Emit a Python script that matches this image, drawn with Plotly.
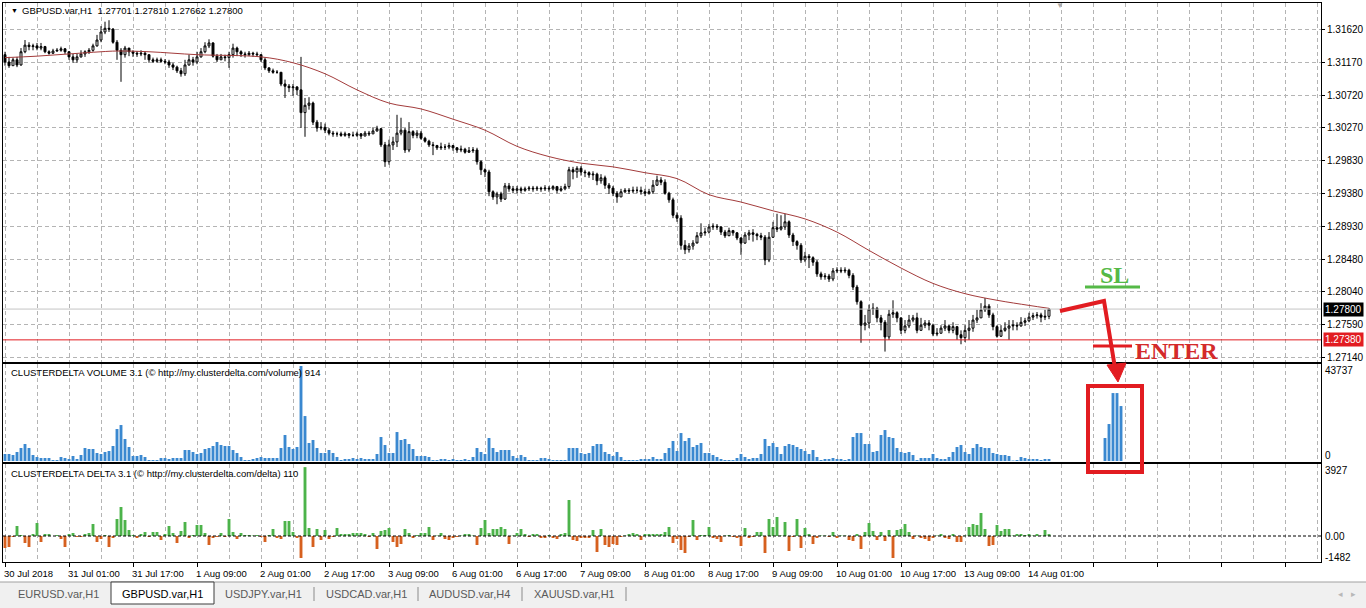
"""
GBPUSD H1 chart in MT4 style with ClusterDelta volume and delta panels.
"""

import plotly.graph_objects as go

W, H = 1366, 608

# ---------------------------------------------------------------- data
first_open = 1.3127

closes = [
    1.3117, 1.3112, 1.3120, 1.3113, 1.3131, 1.3140, 1.3138, 1.3139, 1.3136, 1.3138, 1.3131, 1.3129, 1.3132, 1.3133, 1.3135, 1.3131,
    1.3124, 1.3120, 1.3124, 1.3128, 1.3131, 1.3133, 1.3139, 1.3147, 1.3158, 1.3163, 1.3162, 1.3144, 1.3133, 1.3127, 1.3136, 1.3131,
    1.3129, 1.3128, 1.3129, 1.3127, 1.3120, 1.3118, 1.3120, 1.3118, 1.3117, 1.3113, 1.3110, 1.3105, 1.3101, 1.3113, 1.3120, 1.3117,
    1.3124, 1.3131, 1.3139, 1.3143, 1.3125, 1.3120, 1.3124, 1.3123, 1.3127, 1.3136, 1.3131, 1.3128, 1.3127, 1.3129, 1.3128, 1.3127,
    1.3120, 1.3109, 1.3105, 1.3103, 1.3103, 1.3087, 1.3084, 1.3082, 1.3083, 1.3079, 1.3048, 1.3058, 1.3061, 1.3035, 1.3027, 1.3028,
    1.3024, 1.3020, 1.3019, 1.3019, 1.3017, 1.3019, 1.3017, 1.3017, 1.3019, 1.3016, 1.3020, 1.3019, 1.3023, 1.3026, 1.3004, 1.2981,
    1.3004, 1.3008, 1.3020, 1.3024, 1.2997, 1.3022, 1.3017, 1.3020, 1.3013, 1.3009, 1.3004, 1.3003, 1.3000, 1.3001, 1.3001, 1.3003,
    1.3000, 1.2997, 1.2998, 1.2994, 1.2996, 1.2997, 1.2981, 1.2970, 1.2967, 1.2940, 1.2933, 1.2937, 1.2930, 1.2948, 1.2944, 1.2942,
    1.2944, 1.2942, 1.2944, 1.2945, 1.2944, 1.2945, 1.2944, 1.2945, 1.2944, 1.2947, 1.2942, 1.2944, 1.2947, 1.2970, 1.2967, 1.2972,
    1.2967, 1.2966, 1.2963, 1.2964, 1.2955, 1.2959, 1.2949, 1.2945, 1.2938, 1.2933, 1.2940, 1.2942, 1.2941, 1.2942, 1.2942, 1.2940,
    1.2938, 1.2940, 1.2949, 1.2956, 1.2953, 1.2938, 1.2929, 1.2908, 1.2904, 1.2867, 1.2861, 1.2866, 1.2870, 1.2880, 1.2884, 1.2885,
    1.2892, 1.2893, 1.2892, 1.2885, 1.2880, 1.2887, 1.2884, 1.2877, 1.2870, 1.2881, 1.2884, 1.2882, 1.2880, 1.2878, 1.2847, 1.2878,
    1.2891, 1.2889, 1.2892, 1.2899, 1.2881, 1.2872, 1.2867, 1.2847, 1.2852, 1.2850, 1.2844, 1.2828, 1.2824, 1.2825, 1.2821, 1.2832,
    1.2833, 1.2832, 1.2833, 1.2826, 1.2810, 1.2790, 1.2758, 1.2761, 1.2780, 1.2781, 1.2768, 1.2762, 1.2742, 1.2773, 1.2775, 1.2768,
    1.2751, 1.2757, 1.2765, 1.2768, 1.2751, 1.2758, 1.2761, 1.2758, 1.2746, 1.2747, 1.2754, 1.2757, 1.2751, 1.2756, 1.2745, 1.2741,
    1.2751, 1.2754, 1.2765, 1.2768, 1.2779, 1.2784, 1.2772, 1.2756, 1.2743, 1.2751, 1.2754, 1.2757, 1.2758, 1.2757, 1.2762, 1.2764,
    1.2769, 1.2771, 1.2772, 1.2769, 1.27701, 1.27800,
]

highs = [
    1.3131, 1.3124, 1.3123, 1.3124, 1.3136, 1.3147, 1.3144, 1.3142, 1.3143, 1.3143, 1.3139, 1.3133, 1.3135, 1.3136, 1.3138, 1.3136,
    1.3132, 1.3128, 1.3129, 1.3133, 1.3133, 1.3136, 1.3142, 1.3154, 1.3166, 1.3172, 1.3174, 1.3163, 1.3147, 1.3136, 1.3139, 1.3133,
    1.3133, 1.3132, 1.3133, 1.3132, 1.3127, 1.3123, 1.3123, 1.3123, 1.3121, 1.3120, 1.3116, 1.3112, 1.3109, 1.3120, 1.3127, 1.3124,
    1.3131, 1.3136, 1.3144, 1.3148, 1.3144, 1.3128, 1.3128, 1.3127, 1.3131, 1.3142, 1.3138, 1.3133, 1.3131, 1.3132, 1.3131, 1.3131,
    1.3127, 1.3123, 1.3110, 1.3108, 1.3106, 1.3103, 1.3093, 1.3087, 1.3087, 1.3084, 1.3124, 1.3068, 1.3069, 1.3063, 1.3038, 1.3035,
    1.3033, 1.3027, 1.3023, 1.3022, 1.3022, 1.3022, 1.3020, 1.3022, 1.3022, 1.3020, 1.3023, 1.3023, 1.3028, 1.3030, 1.3027, 1.3008,
    1.3011, 1.3015, 1.3045, 1.3041, 1.3027, 1.3035, 1.3024, 1.3024, 1.3023, 1.3015, 1.3011, 1.3008, 1.3004, 1.3007, 1.3005, 1.3007,
    1.3004, 1.3001, 1.3003, 1.3000, 1.3001, 1.3001, 1.3000, 1.2983, 1.2972, 1.2970, 1.2942, 1.2940, 1.2940, 1.2952, 1.2952, 1.2948,
    1.2948, 1.2947, 1.2947, 1.2948, 1.2948, 1.2948, 1.2947, 1.2949, 1.2948, 1.2949, 1.2948, 1.2948, 1.2951, 1.2974, 1.2974, 1.2975,
    1.2975, 1.2970, 1.2968, 1.2968, 1.2966, 1.2964, 1.2962, 1.2952, 1.2948, 1.2941, 1.2944, 1.2945, 1.2945, 1.2947, 1.2947, 1.2947,
    1.2944, 1.2944, 1.2956, 1.2962, 1.2960, 1.2957, 1.2940, 1.2932, 1.2912, 1.2908, 1.2874, 1.2870, 1.2874, 1.2885, 1.2897, 1.2891,
    1.2896, 1.2897, 1.2896, 1.2893, 1.2888, 1.2891, 1.2888, 1.2885, 1.2878, 1.2885, 1.2888, 1.2889, 1.2884, 1.2884, 1.2881, 1.2885,
    1.2899, 1.2910, 1.2908, 1.2910, 1.2901, 1.2884, 1.2874, 1.2870, 1.2858, 1.2855, 1.2852, 1.2847, 1.2831, 1.2829, 1.2828, 1.2836,
    1.2837, 1.2837, 1.2837, 1.2835, 1.2829, 1.2813, 1.2792, 1.2772, 1.2786, 1.2788, 1.2783, 1.2772, 1.2765, 1.2779, 1.2792, 1.2777,
    1.2768, 1.2765, 1.2772, 1.2772, 1.2775, 1.2768, 1.2765, 1.2765, 1.2760, 1.2754, 1.2758, 1.2765, 1.2758, 1.2762, 1.2757, 1.2751,
    1.2758, 1.2765, 1.2772, 1.2779, 1.2788, 1.2795, 1.2787, 1.2775, 1.2758, 1.2758, 1.2762, 1.2765, 1.2765, 1.2762, 1.2769, 1.2768,
    1.2775, 1.2775, 1.2776, 1.2775, 1.2779, 1.27810,
]

lows = [
    1.3112, 1.3109, 1.3112, 1.3110, 1.3112, 1.3129, 1.3133, 1.3133, 1.3133, 1.3133, 1.3129, 1.3127, 1.3128, 1.3131, 1.3131, 1.3128,
    1.3120, 1.3116, 1.3116, 1.3123, 1.3124, 1.3128, 1.3131, 1.3138, 1.3144, 1.3155, 1.3158, 1.3142, 1.3120, 1.3090, 1.3123, 1.3125,
    1.3124, 1.3124, 1.3125, 1.3120, 1.3116, 1.3116, 1.3116, 1.3116, 1.3114, 1.3109, 1.3106, 1.3102, 1.3097, 1.3098, 1.3112, 1.3112,
    1.3114, 1.3123, 1.3129, 1.3136, 1.3123, 1.3117, 1.3120, 1.3118, 1.3109, 1.3123, 1.3125, 1.3124, 1.3123, 1.3125, 1.3124, 1.3124,
    1.3117, 1.3106, 1.3102, 1.3101, 1.3101, 1.3084, 1.3068, 1.3076, 1.3071, 1.3072, 1.3027, 1.3015, 1.3052, 1.3031, 1.3022, 1.3024,
    1.3020, 1.3017, 1.3015, 1.3015, 1.3015, 1.3015, 1.3013, 1.3015, 1.3015, 1.3012, 1.3016, 1.3016, 1.3019, 1.3022, 1.3001, 1.2974,
    1.2977, 1.2997, 1.3001, 1.3017, 1.2993, 1.2994, 1.3013, 1.3013, 1.3011, 1.3007, 1.3001, 1.2990, 1.2997, 1.2997, 1.2997, 1.2998,
    1.2996, 1.2993, 1.2994, 1.2992, 1.2993, 1.2993, 1.2977, 1.2963, 1.2960, 1.2934, 1.2929, 1.2923, 1.2926, 1.2929, 1.2940, 1.2938,
    1.2938, 1.2938, 1.2940, 1.2941, 1.2940, 1.2941, 1.2940, 1.2941, 1.2940, 1.2942, 1.2938, 1.2940, 1.2942, 1.2944, 1.2957, 1.2959,
    1.2962, 1.2960, 1.2959, 1.2956, 1.2949, 1.2951, 1.2944, 1.2937, 1.2934, 1.2925, 1.2933, 1.2938, 1.2937, 1.2938, 1.2938, 1.2936,
    1.2934, 1.2936, 1.2937, 1.2948, 1.2949, 1.2936, 1.2925, 1.2904, 1.2899, 1.2861, 1.2855, 1.2857, 1.2861, 1.2872, 1.2877, 1.2880,
    1.2883, 1.2888, 1.2888, 1.2881, 1.2877, 1.2881, 1.2880, 1.2874, 1.2854, 1.2869, 1.2874, 1.2872, 1.2874, 1.2874, 1.2840, 1.2844,
    1.2877, 1.2885, 1.2887, 1.2888, 1.2877, 1.2866, 1.2861, 1.2843, 1.2844, 1.2836, 1.2839, 1.2824, 1.2820, 1.2820, 1.2817, 1.2818,
    1.2829, 1.2829, 1.2829, 1.2822, 1.2806, 1.2786, 1.2734, 1.2751, 1.2754, 1.2772, 1.2762, 1.2751, 1.2722, 1.2738, 1.2768, 1.2762,
    1.2746, 1.2747, 1.2754, 1.2762, 1.2747, 1.2751, 1.2754, 1.2751, 1.2743, 1.2743, 1.2747, 1.2750, 1.2747, 1.2747, 1.2738, 1.2732,
    1.2735, 1.2738, 1.2749, 1.2761, 1.2768, 1.2776, 1.2768, 1.2751, 1.2741, 1.2742, 1.2749, 1.2738, 1.2751, 1.2751, 1.2756, 1.2757,
    1.2762, 1.2765, 1.2767, 1.2762, 1.2765, 1.27662,
]

# moving average at a handful of bars
ma_bars = [0, 8, 16, 24, 28, 36, 48, 64, 72, 80, 88, 96, 104, 112, 120, 128, 136,
           144, 152, 160, 168, 176, 184, 192, 200, 208, 216, 224, 232, 240, 248, 256, 261]
ma_values = [1.3123, 1.3125, 1.3128, 1.3131, 1.3132, 1.3131, 1.3127, 1.3124, 1.3116, 1.3101, 1.3079,
             1.3061, 1.3053, 1.3039, 1.3024, 1.3002, 1.2988, 1.2979, 1.2974, 1.2966, 1.2958, 1.2936,
             1.2926, 1.2914, 1.2903, 1.2885, 1.2860, 1.2836, 1.2815, 1.2801, 1.2792, 1.2785, 1.2781]

volumes = [
    3220, 3220, 2760, 4140, 5980, 7820, 5980, 2760, 1840, 1380, 1380, 1380, 460, 460, 1840, 1380,
    920, 2300, 920, 2760, 5980, 5520, 5520, 3680, 3220, 4140, 4600, 6900, 14720, 16560, 10120, 6440,
    2300, 2300, 2760, 1840, 460, 460, 460, 1380, 1380, 920, 1380, 1380, 1380, 5060, 5060, 4140,
    3220, 3680, 5520, 5980, 6900, 8740, 7360, 6900, 6900, 5060, 3680, 1840, 460, 460, 920, 1380,
    1840, 1380, 1380, 1380, 1380, 5980, 11960, 6440, 5520, 6440, 43737, 20700, 8280, 9660, 5980, 3680,
    3680, 5060, 3680, 1840, 460, 920, 920, 1380, 920, 1380, 920, 920, 920, 3220, 11040, 7360,
    3680, 3680, 13340, 9660, 10120, 7820, 5520, 2300, 2300, 2300, 1840, 460, 460, 920, 920, 460,
    920, 460, 460, 920, 460, 1840, 5980, 4140, 3220, 10580, 5980, 4140, 5060, 5060, 5060, 2300,
    1380, 2760, 1840, 460, 460, 460, 1380, 1380, 920, 460, 460, 460, 460, 5980, 5980, 5980,
    3680, 3220, 3680, 6900, 7820, 7820, 4140, 3220, 2300, 4140, 1840, 460, 460, 460, 460, 920,
    920, 920, 1840, 920, 920, 3680, 5980, 9200, 4600, 12880, 9200, 10580, 6440, 7360, 8280, 3680,
    3680, 2760, 1840, 920, 460, 460, 460, 1380, 3220, 1840, 920, 1380, 1380, 3220, 10120, 6900,
    8280, 6440, 3220, 6900, 7820, 7360, 6440, 5520, 4600, 3220, 5060, 1840, 460, 920, 920, 1380,
    920, 920, 460, 920, 11040, 12880, 12880, 7820, 7820, 4140, 4600, 11960, 14260, 11040, 10580, 5980,
    4140, 3680, 4140, 2760, 460, 1380, 1380, 1380, 3220, 1380, 920, 920, 1840, 4140, 6440, 7360,
    4140, 3220, 5980, 7820, 6440, 5980, 5980, 3680, 3220, 2760, 2760, 2300, 230, 460, 1840, 1380,
    920, 920, 920, 460, 920, 914,
]

# the indicator also paints a few bars ahead of the last candle
future_bars = [275, 276, 277, 278, 279]
future_volumes = [10580, 17020, 31280, 31280, 25300]

deltas = [
    -684, -627, -57, 570, 57, -399, -627, 114, 741, -342, 114, 114, 0, 57, -171, -627,
    114, 171, -57, -57, 114, 171, 684, -342, -171, 57, -627, -114, 969, 1653, 912, 342,
    57, -114, 114, 228, -57, 228, 228, -228, 114, 570, 171, -399, 285, 798, -114, 57,
    627, 627, 171, -513, -114, -57, 171, -57, 969, 228, -171, 171, 57, 57, 28, 57,
    -57, -342, 57, 399, -114, -171, 855, 855, 228, -114, -1254, 3927, 456, -627, 399, -228,
    342, -171, -57, 456, 114, 114, 114, 171, 171, 171, 114, -57, 171, -741, 285, 342,
    456, -342, -627, -456, 399, 171, -114, 57, 171, 171, 513, -228, 28, 171, -171, -228,
    -114, -57, 28, 114, 114, 28, -513, 456, 912, 171, 399, 399, 513, 399, -456, 28,
    171, 399, 114, -57, 114, 114, -114, -114, 57, -114, -171, 114, 171, 2052, -228, -285,
    -114, -114, -114, 342, -912, 399, -513, -627, -456, -513, -57, 28, 114, 171, 114, -228,
    114, 114, 114, 114, 114, 228, 513, -399, -171, -798, -969, -57, 912, -228, 57, 57,
    513, -114, -171, -342, 28, 57, -57, -114, -570, 456, -114, -57, 228, 228, -969, 969,
    513, 1083, 28, 798, -855, -57, 969, -684, 456, 114, -456, -114, 28, 28, -57, 228,
    -114, 28, 28, -228, -285, 114, -741, 228, 741, 285, -228, 228, -285, 342, -1254, 342,
    399, 684, 228, -171, 28, -114, -171, -285, -114, 28, 114, -114, -171, 114, -342, -342,
    28, 513, 684, 627, 1311, 399, -570, -513, 627, 285, 399, 399, 28, 114, 114, 57,
    114, 28, 114, 28, 342, 110,
]

price_levels = [1.31620, 1.31170, 1.30720, 1.30270, 1.29830, 1.29380,
                1.28930, 1.28480, 1.28040, 1.27590, 1.27140]

label_bars = [0, 16, 32, 48, 64, 80, 96, 112, 128, 144, 160, 176, 192, 208, 224, 240, 256]
label_texts = ["30 Jul 2018", "31 Jul 01:00", "31 Jul 17:00", "1 Aug 09:00", "2 Aug 01:00",
               "2 Aug 17:00", "3 Aug 09:00", "6 Aug 01:00", "6 Aug 17:00", "7 Aug 09:00",
               "8 Aug 01:00", "8 Aug 17:00", "9 Aug 09:00", "10 Aug 01:00", "10 Aug 17:00",
               "13 Aug 09:00", "14 Aug 01:00"]

last_price = 1.27800
entry_price = 1.27380
header = "GBPUSD.var,H1  1.27701 1.27810 1.27662 1.27800"
volume_title = "CLUSTERDELTA VOLUME 3.1 (© http://my.clusterdelta.com/volume) 914"
delta_title = "CLUSTERDELTA DELTA 3.1 (© http://my.clusterdelta.com/delta) 110"
volume_labels = ["43737", "0"]
delta_labels = ["3927", "0.00", "-1482"]

tabs = ["EURUSD.var,H1", "GBPUSD.var,H1", "USDJPY.var,H1",
        "USDCAD.var,H1", "AUDUSD.var,H4", "XAUUSD.var,H1"]
active_tab = "GBPUSD.var,H1"

# ---------------------------------------------------------------- style
FONT = "Liberation Sans"
SMALL = 9.5
GRID = "#b4b4b4"
GRID_DASH = "4px,3px"
VOL_BLUE = "#3a88d0"
UP_GREEN = "#4cb34a"
DOWN_RED = "#d6601f"
MA_COLOR = "#a33b3b"
DRAW_RED = "#e21c21"
SL_GREEN = "#55b947"


def px(x):
    return x / W


def py(y):
    return 1 - y / H


def text(x, y, s, size=SMALL, color="black", anchor="left", **kw):
    d = dict(x=x, y=y, xref="paper", yref="paper", text=s, showarrow=False,
             xanchor=anchor, yanchor="middle", font=dict(family=FONT, size=size, color=color))
    d.update(kw)
    return d


def line(x0, y0, x1, y1, color, width, **kw):
    d = dict(type="line", xref="paper", yref="paper", x0=px(x0), y0=py(y0),
             x1=px(x1), y1=py(y1), line=dict(color=color, width=width))
    d.update(kw)
    return d


def build_figure():
    n = len(closes)
    bars = list(range(n))
    opens = [first_open] + closes[:-1]

    fig = go.Figure()
    fig.add_trace(go.Candlestick(
        x=bars, open=opens, high=highs, low=lows, close=closes,
        increasing=dict(line=dict(color="black", width=1), fillcolor="white"),
        decreasing=dict(line=dict(color="black", width=1), fillcolor="black"),
        whiskerwidth=0, xaxis="x", yaxis="y", showlegend=False, hoverinfo="skip",
    ))
    fig.add_trace(go.Scatter(
        x=ma_bars, y=ma_values, mode="lines", xaxis="x", yaxis="y",
        line=dict(color=MA_COLOR, width=1, shape="spline"), showlegend=False, hoverinfo="skip",
    ))
    fig.add_trace(go.Bar(
        x=bars, y=volumes, width=0.72, marker=dict(color=VOL_BLUE, line=dict(width=0)),
        xaxis="x2", yaxis="y2", showlegend=False, hoverinfo="skip",
    ))
    fig.add_trace(go.Bar(
        x=future_bars, y=future_volumes, width=0.72, marker=dict(color=VOL_BLUE, line=dict(width=0)),
        xaxis="x2", yaxis="y2", showlegend=False, hoverinfo="skip",
    ))
    fig.add_trace(go.Bar(
        x=bars, y=deltas, width=0.72,
        marker=dict(color=[UP_GREEN if d >= 0 else DOWN_RED for d in deltas], line=dict(width=0)),
        xaxis="x3", yaxis="y3", showlegend=False, hoverinfo="skip",
    ))

    major = list(range(0, 329, 16))
    minor = list(range(8, 329, 16))
    x_common = dict(
        domain=[px(3), px(1321)], range=[-0.5, 329], tickmode="array", tickvals=major,
        showticklabels=False, showgrid=True, gridcolor=GRID, griddash=GRID_DASH, gridwidth=1,
        minor=dict(tickmode="array", tickvals=minor, showgrid=True, gridcolor=GRID,
                   griddash=GRID_DASH, gridwidth=1, ticks=""),
        showline=True, linecolor="black", linewidth=1, mirror=True, zeroline=False,
        fixedrange=True, ticks="",
    )
    y_panel = dict(showticklabels=False, showgrid=False, zeroline=False, showline=True,
                   linecolor="black", linewidth=1, mirror=True, fixedrange=True, ticks="")

    fig.update_layout(
        xaxis=dict(x_common, anchor="y", rangeslider=dict(visible=False)),
        xaxis2=dict(x_common, anchor="y2", matches="x"),
        xaxis3=dict(x_common, anchor="y3", matches="x", ticks="outside", ticklen=4,
                    tickcolor="black", tickwidth=1),
        yaxis=dict(
            domain=[py(362), py(3)], range=[1.27078, 1.31975], side="right", anchor="x",
            tickmode="array", tickvals=price_levels, ticktext=[f"{v:.5f}" for v in price_levels],
            ticks="outside", ticklen=3, tickcolor="black",
            tickfont=dict(family=FONT, size=10, color="black"),
            showgrid=True, gridcolor=GRID, griddash=GRID_DASH, gridwidth=1,
            showline=True, linecolor="black", linewidth=1, mirror=True, zeroline=False,
            fixedrange=True,
        ),
        yaxis2=dict(y_panel, domain=[py(462), py(364)], range=[-460, 44660], anchor="x2"),
        yaxis3=dict(y_panel, domain=[py(562), py(464)], range=[-1482, 4104], anchor="x3"),
        barmode="overlay",
        width=W, height=H, autosize=False,
        margin=dict(l=0, r=0, t=0, b=0),
        plot_bgcolor="white", paper_bgcolor="white",
        font=dict(family=FONT, size=10, color="black"),
        showlegend=False, hovermode=False,
    )

    shapes = [
        # price lines
        dict(type="line", xref="paper", yref="y", x0=px(3), x1=px(1321), y0=last_price,
             y1=last_price, line=dict(color="#c4c4c4", width=1)),
        dict(type="line", xref="paper", yref="y", x0=px(3), x1=px(1321), y0=entry_price,
             y1=entry_price, line=dict(color=DRAW_RED, width=1)),
        dict(type="line", xref="paper", yref="y3", x0=px(3), x1=px(1321), y0=0, y1=0,
             line=dict(color="black", width=1, dash="3px,2px")),
        # hand drawn marks
        line(1085, 287, 1140, 287, SL_GREEN, 3),
        dict(type="path", xref="paper", yref="paper",
             path=f"M {px(1060)},{py(311)} L {px(1104)},{py(301)} L {px(1115)},{py(368)}",
             line=dict(color=DRAW_RED, width=4)),
        dict(type="path", xref="paper", yref="paper",
             path=f"M {px(1107)},{py(365)} L {px(1126)},{py(363)} L {px(1118)},{py(382)} Z",
             line=dict(color=DRAW_RED, width=1), fillcolor=DRAW_RED),
        line(1093, 346, 1132, 346, DRAW_RED, 3),
        dict(type="rect", xref="paper", yref="paper", x0=px(1088), y0=py(386), x1=px(1142),
             y1=py(472), line=dict(color=DRAW_RED, width=4)),
        # tab strip
        dict(type="rect", xref="paper", yref="paper", x0=0, x1=1, y0=0, y1=py(582),
             fillcolor="#f0f0f0", line=dict(width=0), layer="below"),
        line(0, 582, W, 582, "#a0a0a0", 1),
        dict(type="rect", xref="paper", yref="paper", x0=px(111), x1=px(214), y0=py(604),
             y1=py(582), fillcolor="white", line=dict(color="#3c3c3c", width=1)),
    ]

    annotations = [
        text(px(9), py(11), "▼", size=7),
        text(px(20), py(11), header),
        text(px(1054), py(5), "▼", size=8, color="#a8a8a8"),
        text(px(9), py(372), volume_title),
        text(px(9), py(473), delta_title),
        text(px(1323), py(370), volume_labels[0], size=10),
        text(px(1323), py(455), volume_labels[1], size=10),
        text(px(1323), py(470), delta_labels[0], size=10),
        text(px(1323), py(536), delta_labels[1], size=10),
        text(px(1323), py(557), delta_labels[2], size=10),
        dict(x=px(1323), y=last_price, xref="paper", yref="y", text=f"{last_price:.5f}",
             showarrow=False, xanchor="left", yanchor="middle", bgcolor="black", borderpad=1,
             font=dict(family=FONT, size=10, color="white")),
        dict(x=px(1323), y=entry_price, xref="paper", yref="y", text=f"{entry_price:.5f}",
             showarrow=False, xanchor="left", yanchor="middle", bgcolor=DRAW_RED, borderpad=1,
             font=dict(family=FONT, size=10, color="white")),
        text(px(1114), py(275), "<b>SL</b>", anchor="center",
             font=dict(family="Liberation Serif", size=24, color=SL_GREEN)),
        text(px(1133), py(351), "<b>ENTER</b>",
             font=dict(family="Liberation Serif", size=24, color="#d42a2a")),
        text(px(1347), py(594), "◂   ▸", size=9, color="#b8b8b8", anchor="center"),
    ]

    for bar, label in zip(label_bars, label_texts):
        annotations.append(dict(
            x=bar, y=py(573), xref="x3", yref="paper", text=label, showarrow=False,
            xanchor="left", yanchor="middle", xshift=-3,
            font=dict(family=FONT, size=SMALL, color="black"),
        ))

    tab_centers = [58, 162, 263, 366, 469, 574]
    for cx, name in zip(tab_centers, tabs):
        color = "black" if name == active_tab else "#5a5a5a"
        annotations.append(text(px(cx), py(594), name, size=11, color=color, anchor="center"))
    for sx in [314, 418, 522, 626]:
        shapes.append(line(sx, 587, sx, 601, "#8a8a8a", 1))

    fig.update_layout(shapes=shapes, annotations=annotations)
    return fig


fig = build_figure()
fig.write_html("out.html", config={"displayModeBar": False, "staticPlot": True},
               post_script="document.body.style.margin='0';")
